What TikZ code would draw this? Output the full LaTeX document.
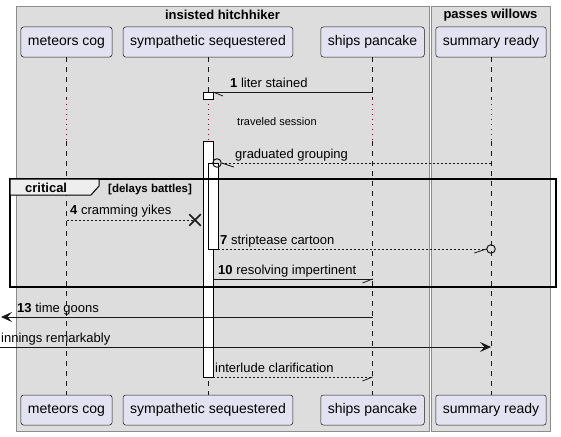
\documentclass[tikz,border=0pt]{standalone}
\usepackage{fontspec}
\setmainfont{Liberation Sans}
\usepackage{tikz}
\usetikzlibrary{positioning}
\usetikzlibrary{arrows.meta}
\usetikzlibrary{shapes.misc}
\definecolor{groupbg}{RGB}{221,221,221}
\definecolor{groupline}{RGB}{140,140,140}
\definecolor{boxfill}{RGB}{226,226,240}
\definecolor{ink}{RGB}{24,24,24}
\definecolor{delay}{RGB}{168,0,54}
\definecolor{tabfill}{RGB}{238,238,238}

\begin{document}
\begin{tikzpicture}[x=1pt, y=-1pt, >={Stealth[length=11pt,width=10pt,inset=4.5pt]},
part/.style={draw=ink, line width=0.5pt, fill=boxfill, rounded corners=2.5pt, minimum height=30pt, inner xsep=7pt, inner ysep=0pt, font=\fontsize{14}{16}\selectfont},
gtitle/.style={font=\fontsize{13}{15}\selectfont\bfseries},
lbl/.style={anchor=base west, inner sep=0pt, font=\fontsize{13}{15}\selectfont},
life/.style={draw=ink, line width=0.5pt, dash pattern=on 5pt off 5pt},
delayline/.style={draw=delay, line width=0.8pt, dash pattern=on 1pt off 4pt},
bar/.style={draw=black, line width=0.8pt, fill=white},
msg/.style={draw=ink, line width=0.8pt},
ret/.style={msg, dash pattern=on 2pt off 2pt},
ring/.style={circle, draw=ink, line width=1pt, minimum size=8.5pt, inner sep=0pt},
xmark/.style={cross out, draw=ink, line width=1.5pt, minimum size=10pt, inner sep=0pt}]
\useasboundingbox (0,0) rectangle (561,436);

% groups
\fill[groupbg] (16,6) rectangle (429,431);
\draw[groupline, line width=0.6pt] (16,6) rectangle (429,431);
\fill[groupbg] (431,6) rectangle (550,431);
\draw[groupline, line width=0.6pt] (431,6) rectangle (550,431);
\node[gtitle] (g1) at (222.5,15) {insisted hitchhiker};
\node[gtitle] (g2) at (490.5,15) {passes willows};

% participants
\node[part] (mc) at (66.5,42) {meteors cog};
\node[part] (ss) at (208,42) {sympathetic sequestered};
\node[part] (sp) at (372.5,42) {ships pancake};
\node[part] (sr) at (491,42) {summary ready};
\node[part] (mc2) at (66.5,410) {meteors cog};
\node[part] (ss2) at (208,410) {sympathetic sequestered};
\node[part] (sp2) at (372.5,410) {ships pancake};
\node[part] (sr2) at (491,410) {summary ready};

% lifelines
\coordinate (dtop) at (0,99);
\coordinate (dbot) at (0,141);
\foreach \p in {mc,ss,sp,sr} {
  \draw[life] (\p.south) -- (\p.south |- dtop);
  \draw[delayline] (\p.south |- dtop) -- (\p.south |- dbot);
  \draw[life] (\p.south |- dbot) -- (\p2.north);
}
\node[anchor=base west, inner sep=0pt, font=\fontsize{11}{13}\selectfont] (dl) at (237,125) {traveled session};

% activations
\draw[bar] (203,92) rectangle (213,99);
\draw[bar] (203,141) rectangle (213,377);
\draw[bar] (208,163) rectangle (218,249);

% lines
% 1
\coordinate (m1a) at (372.5,92);
\coordinate (m1b) at (213,92);
\draw[msg] (m1a) -- (m1b);
\draw[msg] (m1b) -- ++(10,4);
\node[lbl] (l1) at (230,87) {\textbf{1} liter stained};

% graduated
\coordinate (m3a) at (491,163);
\node[ring] (o3) at (217,163) {};
\draw[ret] (m3a) -- (o3.east);
\draw[msg] (o3.east) -- ++(12,4);
\node[lbl] (l3) at (235,158) {graduated grouping};

% 4
\coordinate (m4a) at (66.5,220);
\node[xmark] (x4) at (195,220) {};
\draw[ret] (m4a) -- (x4.center);
\node[lbl] (l4) at (70,214) {\textbf{4} cramming yikes};

% 7
\coordinate (m7a) at (218,249);
\node[ring] (o7) at (491,249) {};
\draw[ret] (m7a) -- (o7.west);
\draw[msg] (o7.west) -- ++(-12,4);
\node[lbl] (l7) at (220,244) {\textbf{7} striptease cartoon};

% 10
\coordinate (m10a) at (213,279);
\coordinate (m10b) at (372.5,279);
\draw[msg] (m10a) -- (m10b);
\draw[msg] (m10b) -- ++(-10,4);
\node[lbl] (l10) at (218,274) {\textbf{10} resolving impertinent};

% 13
\coordinate (m13a) at (372.5,317);
\coordinate (m13b) at (1,317);
\draw[msg,->] (m13a) -- (m13b);
\node[lbl] (l13) at (17,312) {\textbf{13} time goons};

% innings
\coordinate (m14a) at (0,347);
\coordinate (m14b) at (491,347);
\draw[msg,->] (m14a) -- (m14b);
\node[lbl] (l14) at (1,342) {innings remarkably};

% interlude
\coordinate (m15a) at (213,377);
\coordinate (m15b) at (372.5,377);
\draw[ret] (m15a) -- (m15b);
\draw[msg] (m15b) -- ++(-10,4);
\node[lbl] (l15) at (215,372) {interlude clarification};

% critical frame
\draw[black, line width=1.5pt] (10,179) rectangle (556,287);
\draw[black, line width=1pt, fill=tabfill] (10,179) -- (99,179) -- (99,186) -- (91,195) -- (10,195) -- cycle;
\node[anchor=base west, inner sep=0pt, font=\fontsize{13}{15}\selectfont\bfseries] (crit) at (25,192.5) {critical};
\node[anchor=base west, inner sep=0pt, font=\fontsize{11.5}{13}\selectfont\bfseries] (guard) at (108,192) {[delays battles]};
\end{tikzpicture}
\end{document}
